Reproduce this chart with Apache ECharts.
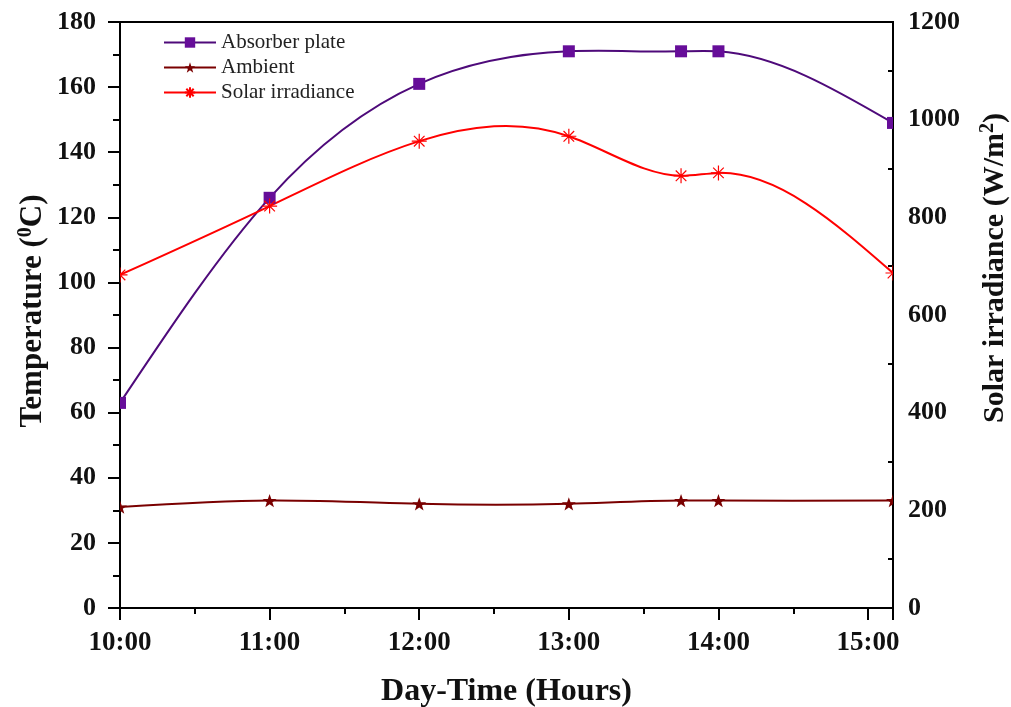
<!DOCTYPE html>
<html>
<head>
<meta charset="utf-8">
<script src="https://cdn.jsdelivr.net/npm/echarts@6/dist/echarts.min.js"></script>
<style>
  html, body { margin: 0; padding: 0; background: #fff; }
  #chart { width: 1011px; height: 707px; }
</style>
</head>
<body>
<div id="chart"></div>
<script>
// Measurement times (clock time) and readings
const times = ['10:00', '11:00', '12:00', '13:00', '13:45', '14:00', '15:10'];
const absorberPlate = [63, 126, 161, 171, 171, 171, 149];
const ambient = [31, 33, 32, 32, 33, 33, 33];
const solarIrradiance = [682, 823, 956, 966, 885, 891, 686];
const hourLabels = ['10:00', '11:00', '12:00', '13:00', '14:00', '15:00'];

const toMinutes = t => { const [h, m] = t.split(':').map(Number); return h * 60 + m; };
const xs = times.map(toMinutes);
const pair = vals => xs.map((x, i) => [x, vals[i]]);

const FONT = '"Liberation Serif", "Times New Roman", serif';
const STAR_PATH = 'M0,-10L2.35,-3.24L9.51,-3.09L3.8,1.24L5.88,8.09L0,4L-5.88,8.09L-3.8,1.24L-9.51,-3.09L-2.35,-3.24Z';
const ASTERISK_PATH = 'M0,-10L0,10M-10,0L10,0M-7.07,-7.07L7.07,7.07M-7.07,7.07L7.07,-7.07';
const AXIS = { color: '#000', width: 2 };
const TICK_FONT = { fontFamily: FONT, fontWeight: 'bold', color: '#111' };
const TITLE_FONT = { fontFamily: FONT, fontWeight: 'bold', fill: '#111' };

const COLORS = {
  absorberLine: '#4e0a7a', absorberMark: '#660d99',
  ambient: '#7a0000', solar: '#ff0000'
};

// Natural cubic spline through the readings, expressed as one cubic Bezier per interval
function splineSegments(x, y) {
  const n = x.length;
  const h = [];
  for (let i = 0; i < n - 1; i++) h.push(x[i + 1] - x[i]);
  // tridiagonal system for the second derivatives (M0 = Mn-1 = 0)
  const a = new Array(n).fill(0), b = new Array(n).fill(1), c = new Array(n).fill(0), d = new Array(n).fill(0);
  for (let i = 1; i < n - 1; i++) {
    a[i] = h[i - 1];
    b[i] = 2 * (h[i - 1] + h[i]);
    c[i] = h[i];
    d[i] = 6 * ((y[i + 1] - y[i]) / h[i] - (y[i] - y[i - 1]) / h[i - 1]);
  }
  for (let i = 1; i < n; i++) {
    const m = a[i] / b[i - 1];
    b[i] -= m * c[i - 1];
    d[i] -= m * d[i - 1];
  }
  const M = new Array(n).fill(0);
  M[n - 1] = d[n - 1] / b[n - 1];
  for (let i = n - 2; i >= 0; i--) M[i] = (d[i] - c[i] * M[i + 1]) / b[i];
  const segs = [];
  for (let i = 0; i < n - 1; i++) {
    const s = (y[i + 1] - y[i]) / h[i];
    const d0 = s - h[i] * (2 * M[i] + M[i + 1]) / 6;
    const d1 = s + h[i] * (M[i] + 2 * M[i + 1]) / 6;
    segs.push([
      [x[i], y[i]],
      [x[i] + h[i] / 3, y[i] + d0 * h[i] / 3],
      [x[i + 1] - h[i] / 3, y[i + 1] - d1 * h[i] / 3],
      [x[i + 1], y[i + 1]]
    ]);
  }
  return segs;
}

// Custom series drawing the spline curve of one reading set (clipped to the plot)
function curveSeries(name, values, color, yAxisIndex) {
  const segs = splineSegments(xs, values);
  return {
    name, type: 'custom', yAxisIndex, z: 1, clip: true, silent: true,
    data: pair(values), encode: { x: 0, y: 1 },
    renderItem: (params, api) => {
      const seg = segs[params.dataIndex];
      if (!seg) return null;
      const [p0, p1, p2, p3] = seg.map(p => api.coord(p));
      return {
        type: 'bezierCurve',
        shape: { x1: p0[0], y1: p0[1], cpx1: p1[0], cpy1: p1[1], cpx2: p2[0], cpy2: p2[1], x2: p3[0], y2: p3[1] },
        style: { stroke: color, lineWidth: 2, fill: null }
      };
    }
  };
}

// Custom series drawing the point markers (clipped to the plot like the curves)
function markerSeries(name, values, yAxisIndex, size, pathData, style) {
  return {
    name, type: 'custom', yAxisIndex, z: 3, clip: true, silent: true,
    data: pair(values), encode: { x: 0, y: 1 },
    renderItem: (params, api) => {
      const p = api.coord([api.value(0), api.value(1)]);
      if (!pathData) {
        return { type: 'rect', shape: { x: p[0] - size / 2, y: p[1] - size / 2, width: size, height: size }, style };
      }
      return {
        type: 'path',
        shape: { pathData, x: p[0] - size / 2, y: p[1] - size / 2, width: size, height: size, layout: 'center' },
        style
      };
    }
  };
}

const chart = echarts.init(document.getElementById('chart'), null, { renderer: 'canvas' });

chart.setOption({
  backgroundColor: '#ffffff',
  animation: false,
  grid: {
    left: 120, right: 118, top: 22, bottom: 99, outerBoundsMode: 'none', containLabel: false,
    show: true, borderColor: '#000', borderWidth: 2
  },
  legend: {
    left: 158, top: 27, orient: 'vertical', itemGap: 4, itemWidth: 52, itemHeight: 13,
    textStyle: { fontFamily: FONT, fontSize: 21, color: '#222' },
    data: ['Absorber plate', 'Ambient', 'Solar irradiance']
  },
  xAxis: {
    type: 'value', min: 600, max: 910, interval: 60,
    axisLine: { onZero: false, lineStyle: AXIS },
    axisTick: { show: true, length: 12, lineStyle: AXIS },
    minorTick: { show: true, splitNumber: 2, length: 6, lineStyle: AXIS },
    splitLine: { show: false },
    axisLabel: {
      ...TICK_FONT, margin: 22, fontSize: 27, showMaxLabel: false,
      formatter: v => hourLabels[(v - 600) / 60] || ''
    },
    name: 'Day-Time (Hours)', nameLocation: 'middle', nameGap: 68,
    nameTextStyle: { fontFamily: FONT, fontSize: 32, fontWeight: 'bold', color: '#111' }
  },
  yAxis: [{
    type: 'value', min: 0, max: 180, interval: 20, position: 'left',
    axisLine: { show: true, lineStyle: AXIS },
    axisTick: { show: true, length: 12, lineStyle: AXIS },
    minorTick: { show: true, splitNumber: 2, length: 7, lineStyle: AXIS },
    splitLine: { show: false },
    axisLabel: { ...TICK_FONT, margin: 24, fontSize: 26 }
  }, {
    type: 'value', min: 0, max: 1200, interval: 200, position: 'right',
    axisLine: { show: true, lineStyle: AXIS },
    axisTick: { show: true, inside: true, length: 5, lineStyle: { color: 'rgba(0,0,0,0)', width: 2 } },
    minorTick: { show: true, splitNumber: 2, length: 5, lineStyle: AXIS },
    splitLine: { show: false },
    axisLabel: { ...TICK_FONT, margin: 15, fontSize: 26, formatter: v => String(v) }
  }],
  series: [
    // legend entries (line + marker icon); the marks themselves are drawn by the custom series below
    {
      name: 'Absorber plate', type: 'line', yAxisIndex: 0, data: [], symbol: 'rect', symbolSize: 12,
      lineStyle: { color: COLORS.absorberLine, width: 2 }, itemStyle: { color: COLORS.absorberMark }
    }, {
      name: 'Ambient', type: 'line', yAxisIndex: 0, data: [], symbol: 'path://' + STAR_PATH, symbolSize: 14,
      lineStyle: { color: COLORS.ambient, width: 2 }, itemStyle: { color: COLORS.ambient }
    }, {
      name: 'Solar irradiance', type: 'line', yAxisIndex: 1, data: [], symbol: 'path://' + ASTERISK_PATH, symbolSize: 15,
      lineStyle: { color: COLORS.solar, width: 2 },
      itemStyle: { color: 'rgba(0,0,0,0)', borderColor: COLORS.solar, borderWidth: 1.2 }
    },
    curveSeries('Absorber plate', absorberPlate, COLORS.absorberLine, 0),
    curveSeries('Ambient', ambient, COLORS.ambient, 0),
    curveSeries('Solar irradiance', solarIrradiance, COLORS.solar, 1),
    markerSeries('Absorber plate', absorberPlate, 0, 12, null, { fill: COLORS.absorberMark }),
    markerSeries('Ambient', ambient, 0, 14, STAR_PATH, { fill: COLORS.ambient }),
    markerSeries('Solar irradiance', solarIrradiance, 1, 15, ASTERISK_PATH, { fill: null, stroke: COLORS.solar, lineWidth: 1.2 })
  ],
  // Y-axis titles with superscripts, drawn as rotated rich text
  graphic: [{
    type: 'text', rotation: Math.PI / 2, x: 33, y: 311,
    style: {
      ...TITLE_FONT, fontSize: 31, align: 'center', verticalAlign: 'middle',
      text: 'Temperature ({s|0}C)',
      rich: { s: { ...TITLE_FONT, fontSize: 20, padding: [0, 0, 14, 0] } }
    }
  }, {
    type: 'text', rotation: Math.PI / 2, x: 995, y: 268,
    style: {
      ...TITLE_FONT, fontSize: 30, align: 'center', verticalAlign: 'middle',
      text: 'Solar irradiance (W/m{s|2})',
      rich: { s: { ...TITLE_FONT, fontSize: 20, padding: [0, 0, 14, 0] } }
    }
  }]
});
</script>
</body>
</html>
